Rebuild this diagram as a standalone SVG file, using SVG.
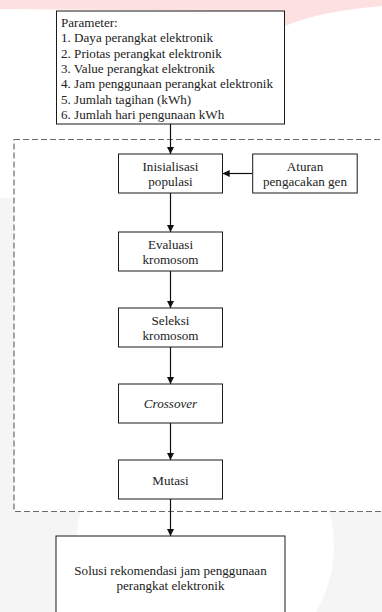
<svg xmlns="http://www.w3.org/2000/svg" width="382" height="612" viewBox="0 0 382 612">
<defs>
<style>
.bg{fill:#f5f5f5}
.box{fill:#ffffff;stroke:#1a1a1a;stroke-width:1}
.grp{fill:#ffffff;stroke:#6b6b6b;stroke-width:1.2;stroke-dasharray:6 3}
.t{font-family:"Liberation Serif","Times New Roman",serif;font-size:13.1px;fill:#222}
.c{text-anchor:middle}
.i{font-style:italic}
.ln{stroke:#111;stroke-width:1.2;fill:none;marker-end:url(#ah)}
</style>
<marker id="ah" viewBox="0 0 10 10" refX="10" refY="5" markerWidth="7" markerHeight="7" markerUnits="userSpaceOnUse" orient="auto">
<path d="M0,0 L10,5 L0,10 Z" fill="#111"/>
</marker>
</defs>
<rect width="382" height="612" fill="#ffffff"/>
<g id="watermark">
<path d="M0 0 H382 V6 Q320 11 285 26 L285 12 Q150 10 0 9 Z" fill="#fde0e0"/>
<rect class="bg" x="0" y="198" width="382" height="414"/>
<circle cx="205" cy="546" r="129" fill="#ffffff"/>
</g>
<g id="group-ga">
<rect class="grp" x="14" y="139.5" width="380" height="372"/>
</g>
<g id="connectors">
<line class="ln" x1="170.5" y1="124" x2="170.5" y2="154"/>
<line class="ln" x1="252.7" y1="173.5" x2="222.7" y2="173.5"/>
<line class="ln" x1="170.5" y1="193" x2="170.5" y2="232"/>
<line class="ln" x1="170.5" y1="271" x2="170.5" y2="308"/>
<line class="ln" x1="170.5" y1="347" x2="170.5" y2="384"/>
<line class="ln" x1="170.5" y1="423" x2="170.5" y2="460"/>
<line class="ln" x1="170.5" y1="499" x2="170.5" y2="536"/>
</g>
<g id="parameter">
<rect class="box" x="56.5" y="11" width="228" height="113"/>
<text class="t" x="61" y="27">Parameter:</text>
<text class="t" x="61" y="42.3">1. Daya perangkat elektronik</text>
<text class="t" x="61" y="57.6">2. Priotas perangkat elektronik</text>
<text class="t" x="61" y="72.9">3. Value perangkat elektronik</text>
<text class="t" x="61" y="88.2">4. Jam penggunaan perangkat elektronik</text>
<text class="t" x="61" y="103.5">5. Jumlah tagihan (kWh)</text>
<text class="t" x="61" y="118.8">6. Jumlah hari pengunaan kWh</text>
</g>
<g id="inisialisasi">
<rect class="box" x="118.5" y="154" width="104" height="39"/>
<text class="t c" x="170.5" y="170.5">Inisialisasi</text>
<text class="t c" x="170.5" y="186">populasi</text>
</g>
<g id="aturan">
<rect class="box" x="252.7" y="154" width="104.5" height="39"/>
<text class="t c" x="305" y="170.5">Aturan</text>
<text class="t c" x="305" y="186">pengacakan gen</text>
</g>
<g id="evaluasi">
<rect class="box" x="118.5" y="232" width="104" height="39"/>
<text class="t c" x="170.5" y="248.5">Evaluasi</text>
<text class="t c" x="170.5" y="264">kromosom</text>
</g>
<g id="seleksi">
<rect class="box" x="118.5" y="308" width="104" height="39"/>
<text class="t c" x="170.5" y="324.5">Seleksi</text>
<text class="t c" x="170.5" y="340">kromosom</text>
</g>
<g id="crossover">
<rect class="box" x="118.5" y="384" width="104" height="39"/>
<text class="t c i" x="170.5" y="408">Crossover</text>
</g>
<g id="mutasi">
<rect class="box" x="118.5" y="460" width="104" height="39"/>
<text class="t c" x="170.5" y="484.5">Mutasi</text>
</g>
<g id="solusi">
<rect class="box" x="56" y="536" width="229" height="90"/>
<text class="t c" x="170.5" y="575">Solusi rekomendasi jam penggunaan</text>
<text class="t c" x="170.5" y="590">perangkat elektronik</text>
</g>
</svg>
